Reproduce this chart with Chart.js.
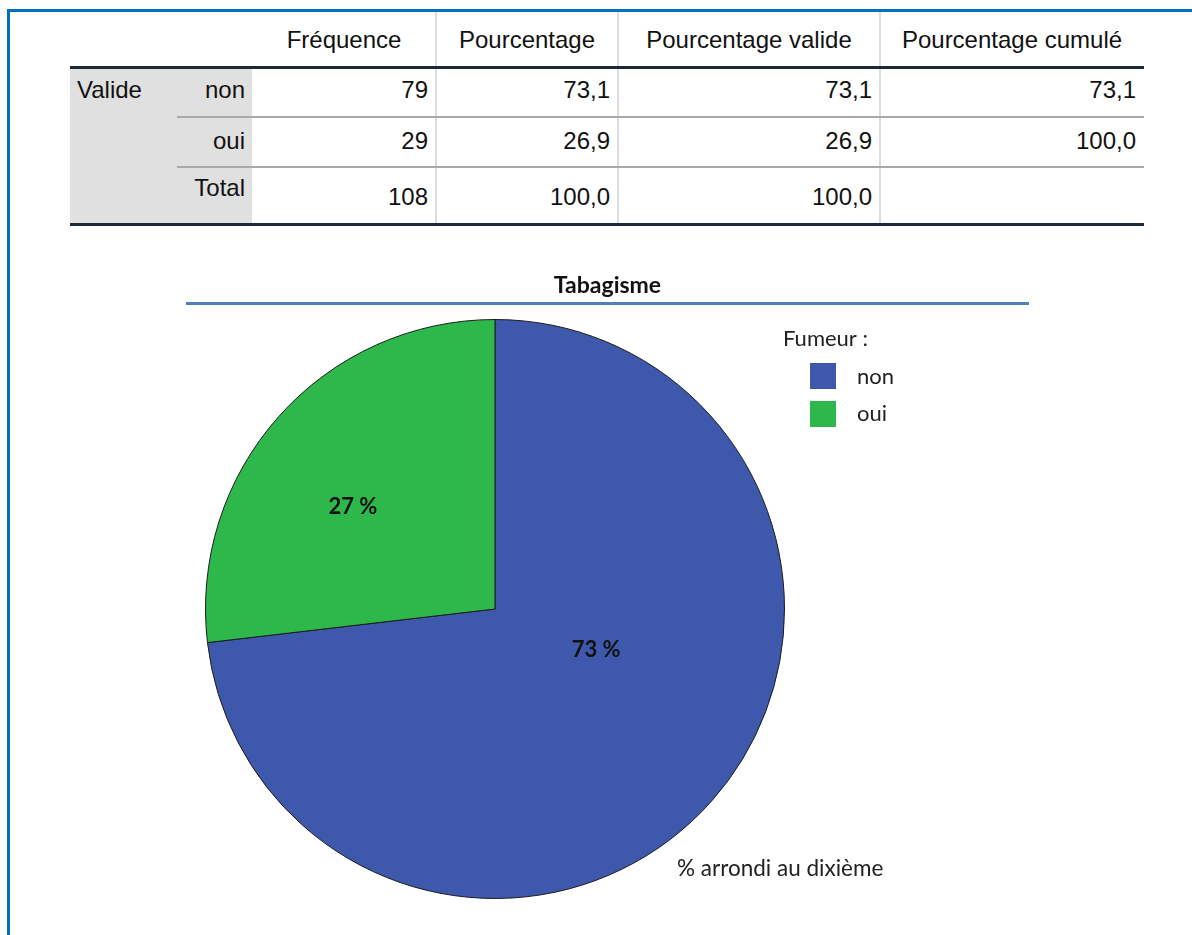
<!DOCTYPE html>
<html>
<head>
<meta charset="utf-8">
<script src="https://cdn.jsdelivr.net/npm/chart.js@4.4.0/dist/chart.umd.min.js"></script>
<style>
html,body{margin:0;padding:0;background:#fff;width:1192px;height:935px;overflow:hidden;position:relative;font-family:"Liberation Sans",Arial,sans-serif;}
.abs{position:absolute;}
.txt{position:absolute;font-size:24px;color:#111;white-space:nowrap;height:30px;line-height:30px;}
#chartWrap{position:absolute;left:186px;top:262px;width:843px;height:673px;}
</style>
</head>
<body>
<div class="abs" style="left:7px;top:9px;width:1185px;height:3px;background:#0070c0"></div>
<div class="abs" style="left:7px;top:9px;width:3px;height:926px;background:#0070c0"></div>
<div id="table"></div>
<div id="chartWrap"><canvas id="c" width="843" height="673"></canvas></div>
<script>
// ---- data ----
const chartTitle = 'Tabagisme';
const legendTitle = 'Fumeur :';
const categories = ['non', 'oui'];
const frequencies = [79, 29];
const sliceColors = ['#3e58ab', '#2eb84b'];
const rowGroupLabel = 'Valide';
const totalLabel = 'Total';
const columnHeaders = ['Fréquence', 'Pourcentage', 'Pourcentage valide', 'Pourcentage cumulé'];
const footnote = '% arrondi au dixième';

// ---- table ----
const fmt = v => v.toFixed(1).replace('.', ',');
const total = frequencies.reduce((a, b) => a + b, 0);
let cum = 0;
const rows = categories.map((c, i) => {
  const p = frequencies[i] / total * 100;
  cum += p;
  return [c, String(frequencies[i]), fmt(p), fmt(p), fmt(cum)];
});
rows.push([totalLabel, String(total), fmt(100), fmt(100), '']);

const T = document.getElementById('table');
function box(l, t, w, h, bg) {
  const d = document.createElement('div');
  d.className = 'abs';
  d.style.cssText = `left:${l}px;top:${t}px;width:${w}px;height:${h}px;background:${bg}`;
  T.appendChild(d);
}
function txt(s, x, cy, align, w) {
  const d = document.createElement('div');
  d.className = 'txt';
  d.textContent = s;
  if (align === 'left') { d.style.left = x + 'px'; }
  else if (align === 'right') { d.style.right = (1192 - x) + 'px'; }
  else { d.style.left = (x - w / 2) + 'px'; d.style.width = w + 'px'; d.style.textAlign = 'center'; }
  d.style.top = (cy - 15) + 'px';
  T.appendChild(d);
}
const cols = [[252, 436], [436, 618], [618, 880], [880, 1144]];
box(70, 69, 182, 155, '#e0e0e0');
[435, 617, 879].forEach(x => box(x, 12, 2, 212, '#dddddd'));
box(70, 66, 1074, 3, '#1b2a36');
box(177, 116, 967, 2, '#a9a9a9');
box(177, 166, 967, 2, '#a9a9a9');
box(70, 223, 1074, 3, '#1b2a36');
columnHeaders.forEach((h, i) => txt(h, (cols[i][0] + cols[i][1]) / 2, 40, 'center', cols[i][1] - cols[i][0]));
txt(rowGroupLabel, 77, 90, 'left');
const rowY = [90, 141, 197];
const labY = [90, 141, 188];
rows.forEach((r, i) => {
  txt(r[0], 245, labY[i], 'right');
  for (let j = 1; j < 5; j++) if (r[j]) txt(r[j], cols[j - 1][1] - 8, rowY[i], 'right');
});

// ---- chart ----
const chartFont = 'Lato, "Open Sans", sans-serif';
const extras = {
  id: 'extras',
  afterDatasetsDraw(chart, args, opts) {
    const ctx = chart.ctx;
    const meta = chart.getDatasetMeta(0);
    const data = chart.data.datasets[0].data;
    const sum = data.reduce((a, b) => a + b, 0);
    ctx.save();
    ctx.font = `bold ${opts.labelSize}px ${chartFont}`;
    ctx.fillStyle = '#111';
    ctx.textAlign = 'center';
    ctx.textBaseline = 'middle';
    meta.data.forEach((arc, i) => {
      const p = arc.getProps(['x', 'y', 'startAngle', 'endAngle', 'outerRadius'], true);
      const a = (p.startAngle + p.endAngle) / 2 + opts.labelShift[i] * Math.PI / 180;
      const r = p.outerRadius * opts.labelRadius[i];
      ctx.fillText(Math.round(data[i] / sum * 100) + ' %', p.x + Math.cos(a) * r, p.y + Math.sin(a) * r);
    });
    ctx.restore();
  },
  afterDraw(chart, args, opts) {
    const ctx = chart.ctx;
    ctx.save();
    // title
    ctx.font = `bold ${opts.titleSize}px ${chartFont}`;
    ctx.fillStyle = '#111';
    ctx.textAlign = 'center';
    ctx.textBaseline = 'middle';
    ctx.fillText(chartTitle, chart.width / 2, 24);
    // rule under title
    ctx.strokeStyle = '#4f81bd';
    ctx.lineWidth = 3;
    ctx.beginPath();
    ctx.moveTo(0, 41.5);
    ctx.lineTo(chart.width, 41.5);
    ctx.stroke();
    // legend
    ctx.font = `${opts.textSize}px ${chartFont}`;
    ctx.fillStyle = '#222';
    ctx.textAlign = 'left';
    ctx.fillText(legendTitle, 597, 77);
    const ds = chart.data.datasets[0];
    chart.data.labels.forEach((lab, i) => {
      ctx.fillStyle = ds.backgroundColor[i];
      ctx.fillRect(624, 101 + i * 38, 26, 26);
      ctx.fillStyle = '#222';
      ctx.fillText(lab, 671, 115 + i * 37);
    });
    // footnote
    ctx.font = `${opts.noteSize}px ${chartFont}`;
    ctx.fillText(footnote, 491, 607);
    ctx.restore();
  }
};

new Chart(document.getElementById('c'), {
  type: 'pie',
  data: {
    labels: categories,
    datasets: [{
      data: frequencies,
      backgroundColor: sliceColors,
      borderColor: '#1c1c1c',
      borderWidth: 1
    }]
  },
  options: {
    responsive: false,
    animation: false,
    devicePixelRatio: 1,
    layout: { padding: { left: 19, right: 244, top: 57, bottom: 36 } },
    plugins: {
      legend: { display: false },
      tooltip: { enabled: false },
      title: { display: false },
      extras: { titleSize: 23, labelSize: 22, textSize: 22, noteSize: 22.5, labelRadius: [0.377, 0.605], labelShift: [-19.5, -5.9] }
    }
  },
  plugins: [extras]
});
</script>
</body>
</html>
